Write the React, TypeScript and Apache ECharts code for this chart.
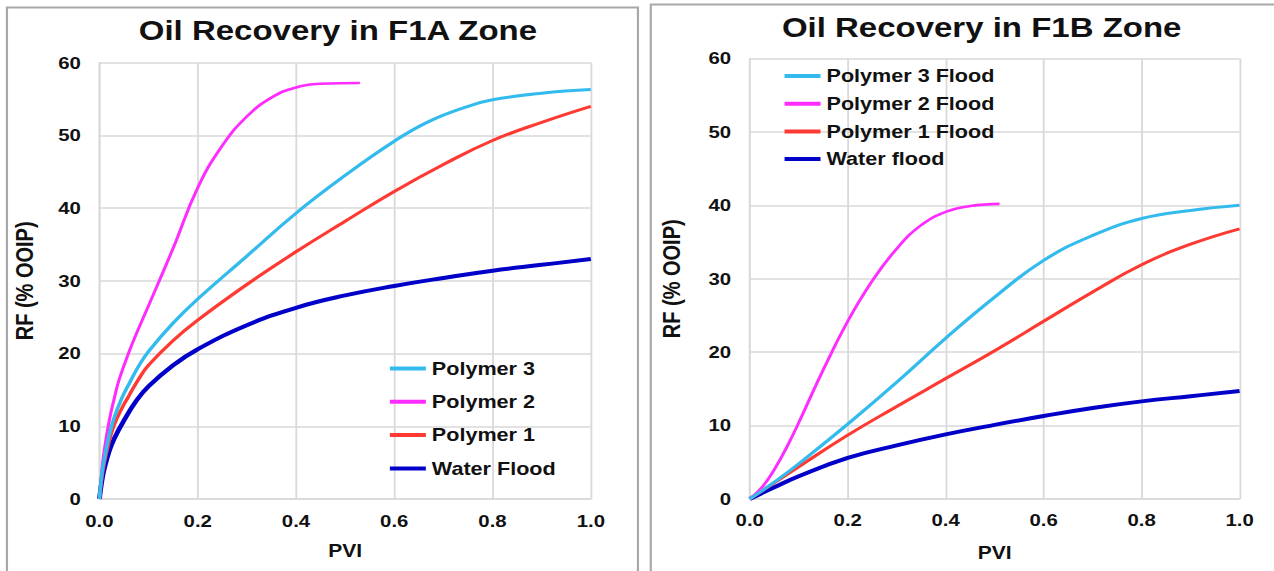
import React, { useEffect, useRef } from "react";
import * as echarts from "echarts";

// Recovery factor (% OOIP) against pore volumes injected, per zone.
const f1aPolymer3: [number, number][] = [
  [0, 0], [0.005, 3.5], [0.01, 5.5], [0.02, 8.8], [0.03, 11.2], [0.045, 13.8], [0.06, 15.8],
  [0.08, 18.3], [0.1, 20.3], [0.15, 24.2], [0.2, 27.5], [0.3, 33.4], [0.4, 39.3], [0.5, 44.5],
  [0.6, 49.2], [0.67, 51.9], [0.75, 54], [0.8, 54.9], [0.9, 55.8], [1.0, 56.3],
];
const f1aPolymer2: [number, number][] = [
  [0, 0], [0.005, 4], [0.01, 6.8], [0.02, 10.8], [0.03, 13.8], [0.04, 16.4], [0.06, 20.2],
  [0.08, 23.5], [0.1, 26.6], [0.15, 34.5], [0.2, 42.8], [0.25, 48.6], [0.3, 52.6], [0.35, 55.2],
  [0.4, 56.6], [0.45, 57.1], [0.53, 57.2],
];
const f1aPolymer1: [number, number][] = [
  [0, 0], [0.005, 3], [0.01, 5], [0.02, 8], [0.03, 10.2], [0.045, 12.4], [0.06, 14.2],
  [0.08, 16.5], [0.1, 18.4], [0.15, 21.8], [0.2, 24.6], [0.3, 29.5], [0.4, 34], [0.5, 38.2],
  [0.6, 42.3], [0.7, 46], [0.8, 49.3], [0.9, 51.8], [1.0, 54],
];
const f1aWater: [number, number][] = [
  [0, 0], [0.005, 2.5], [0.01, 4.2], [0.02, 6.6], [0.03, 8.3], [0.05, 10.8], [0.075, 13.5],
  [0.1, 15.5], [0.15, 18.4], [0.2, 20.6], [0.3, 23.9], [0.4, 26.3], [0.5, 28], [0.6, 29.3],
  [0.7, 30.4], [0.8, 31.4], [0.9, 32.2], [1.0, 33],
];

const f1bPolymer3: [number, number][] = [
  [0, 0], [0.05, 2.3], [0.1, 4.8], [0.2, 10.2], [0.3, 15.9], [0.4, 21.9], [0.5, 27.5],
  [0.6, 32.5], [0.7, 35.9], [0.8, 38.2], [0.9, 39.3], [1.0, 40],
];
const f1bPolymer2: [number, number][] = [
  [0, 0], [0.025, 1.6], [0.05, 4], [0.075, 7], [0.1, 10.4], [0.15, 17.6], [0.2, 24.2],
  [0.25, 29.7], [0.3, 34.1], [0.35, 37.3], [0.4, 39.1], [0.45, 39.9], [0.51, 40.2],
];
const f1bPolymer1: [number, number][] = [
  [0, 0], [0.05, 2.2], [0.1, 4.4], [0.2, 8.7], [0.3, 12.6], [0.4, 16.4], [0.5, 20.2],
  [0.6, 24.2], [0.7, 28.2], [0.8, 31.9], [0.9, 34.7], [1.0, 36.8],
];
const f1bWater: [number, number][] = [
  [0, 0], [0.05, 1.6], [0.1, 3.1], [0.2, 5.6], [0.3, 7.3], [0.4, 8.8], [0.5, 10.1],
  [0.6, 11.3], [0.7, 12.4], [0.8, 13.3], [0.9, 14], [1.0, 14.7],
];

const f1aNames = ["Polymer 3", "Polymer 2", "Polymer 1", "Water Flood"];
const f1bNames = ["Polymer 3 Flood", "Polymer 2 Flood", "Polymer 1 Flood", "Water flood"];
const titles = ["Oil Recovery in F1A Zone", "Oil Recovery in F1B Zone"];
const colors = ["#33bbee", "#ff2cff", "#ff3a33", "#0000c8"];
const widths = [3, 2.6, 3, 4];

// The drawing is laid out on a narrower canvas and widened horizontally.
const PAGE_W = 1274;
const CANVAS_W = 1062;
const SX = PAGE_W / CANVAS_W;
const H = 571;

const FONT = "'Liberation Sans', Arial, sans-serif";
const INK = "#111";
const GRID = "#d9d9d9";

function xAxis(gridIndex: number, nameGap: number, labelMargin: number) {
  return {
    type: "value",
    gridIndex,
    min: 0,
    max: 1,
    interval: 0.2,
    name: "PVI",
    nameLocation: "middle",
    nameGap,
    nameTextStyle: { fontFamily: FONT, fontWeight: "bold", fontSize: 17.5, color: INK },
    axisLine: { show: true, lineStyle: { color: GRID, width: 1.5 } },
    axisTick: { show: false },
    axisLabel: {
      margin: labelMargin,
      fontFamily: FONT,
      fontWeight: "bold",
      fontSize: 17,
      color: INK,
      formatter: (v: number) => v.toFixed(1),
    },
    splitLine: { show: true, lineStyle: { color: GRID, width: 1.5 } },
  };
}

function yAxis(gridIndex: number, nameGap: number) {
  return {
    type: "value",
    gridIndex,
    min: 0,
    max: 60,
    interval: 10,
    name: "RF (% OOIP)",
    nameLocation: "middle",
    nameGap,
    nameTextStyle: { fontFamily: FONT, fontWeight: "bold", fontSize: 20, color: INK },
    axisLine: { show: true, lineStyle: { color: GRID, width: 1.5 } },
    axisTick: { show: false },
    axisLabel: { margin: 15.5, fontFamily: FONT, fontWeight: "bold", fontSize: 17, color: INK },
    splitLine: { show: true, lineStyle: { color: GRID, width: 1.5 } },
  };
}

function lineSeries(name: string, data: [number, number][], i: number, gridIdx: number) {
  return {
    type: "line",
    name,
    data,
    xAxisIndex: gridIdx,
    yAxisIndex: gridIdx,
    smooth: 0.45,
    showSymbol: false,
    symbol: "none",
    color: colors[i],
    lineStyle: { color: colors[i], width: widths[i] },
    z: 3 + (3 - i),
  };
}

function legend(names: string[], left: number, top: number, itemGap: number) {
  return {
    show: true,
    orient: "vertical",
    left,
    top,
    padding: 0,
    itemGap,
    itemWidth: 30,
    itemHeight: 4,
    icon: "rect",
    data: names,
    selectedMode: false,
    textStyle: { fontFamily: FONT, fontWeight: "bold", fontSize: 18, color: INK, lineHeight: 20 },
  };
}

export default function App() {
  const ref = useRef<HTMLDivElement>(null);

  useEffect(() => {
    if (!ref.current) return;
    const chart = echarts.init(ref.current, undefined, { renderer: "svg" });

    const zoneA = [f1aPolymer3, f1aPolymer2, f1aPolymer1, f1aWater];
    const zoneB = [f1bPolymer3, f1bPolymer2, f1bPolymer1, f1bWater];

    chart.setOption({
      animation: false,
      backgroundColor: "#ffffff",
      grid: [
        { left: 82.9, right: CANVAS_W - 492.5, top: 62.7, bottom: H - 499 },
        { left: 625, right: CANVAS_W - 1033.3, top: 58.5, bottom: H - 499 },
      ],
      xAxis: [xAxis(0, 43, 13.5), xAxis(1, 45, 12.5)],
      yAxis: [yAxis(0, 52), yAxis(1, 55)],
      legend: [
        legend(f1aNames, 325, 358.5, 13.3),
        legend(f1bNames, 654, 66, 7.7),
      ],
      series: [
        ...zoneA.map((d, i) => lineSeries(f1aNames[i], d, i, 0)),
        ...zoneB.map((d, i) => lineSeries(f1bNames[i], d, i, 1)),
      ],
      graphic: [
        {
          type: "rect",
          shape: { x: 5.8, y: 7.5, width: 526, height: 600 },
          style: { fill: "none", stroke: "#a8a8a8", lineWidth: 1.8 },
          silent: true,
        },
        {
          type: "rect",
          shape: { x: 542.5, y: 4.5, width: 540, height: 600 },
          style: { fill: "none", stroke: "#a8a8a8", lineWidth: 1.8 },
          silent: true,
        },
        {
          type: "text",
          x: 281.7,
          y: 30,
          style: {
            text: titles[0],
            font: `bold 27.5px ${FONT}`,
            fill: INK,
            textAlign: "center",
            textVerticalAlign: "middle",
          },
        },
        {
          type: "text",
          x: 818.3,
          y: 27,
          style: {
            text: titles[1],
            font: `bold 27.5px ${FONT}`,
            fill: INK,
            textAlign: "center",
            textVerticalAlign: "middle",
          },
        },
      ],
    });

    return () => chart.dispose();
  }, []);

  return (
    <div
      ref={ref}
      style={{
        position: "absolute",
        left: 0,
        top: 0,
        width: CANVAS_W,
        height: H,
        transform: `scaleX(${SX})`,
        transformOrigin: "0 0",
        background: "#fff",
      }}
    />
  );
}
